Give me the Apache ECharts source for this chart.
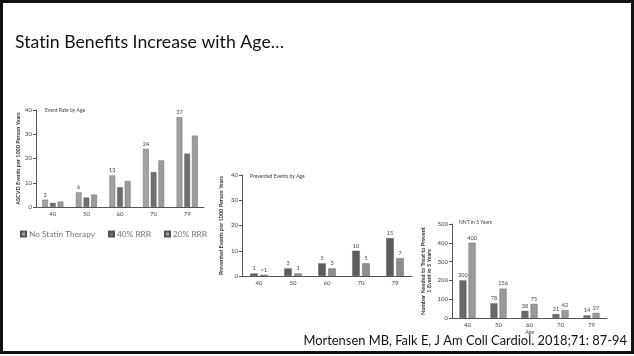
<!DOCTYPE html>
<html>
<head>
<meta charset="utf-8">
<script src="https://cdn.jsdelivr.net/npm/echarts@6/dist/echarts.min.js"></script>
<style>
  html, body { margin: 0; padding: 0; background: #fff; }
  #chart { width: 634px; height: 356px; }
</style>
</head>
<body>
<div id="chart"></div>
<script>
// Age groups shared by all three panels
const ages = ['40', '50', '60', '70', '79'];

// Panel 1: ASCVD events per 1000 person years
const noStatin = [3, 6, 13, 24, 37];
const rrr40 = [1.7, 3.9, 8.1, 14.4, 22];
const rrr20 = [2.2, 5.1, 10.7, 19.2, 29.4];

// Panel 2: prevented events per 1000 person years
const prevented40 = [1, 3, 5, 10, 15];
const prevented20 = [0.5, 1, 3, 5, 7];
const prevented20Labels = ['<1', '1', '3', '5', '7'];

// Panel 3: number needed to treat in 5 years
const nnt40 = [200, 78, 38, 21, 14];
const nnt20 = [400, 156, 75, 42, 27];

// Tick values
const rateTicks = [0, 10, 20, 30, 40];
const nntTicks = [0, 100, 200, 300, 400, 500];

const FONT = 'Lato, "Noto Sans", sans-serif';
const axisCol = '#555';

function xAxisFor(gridIndex, extra) {
  return Object.assign({
    type: 'category', gridIndex, data: ages,
    axisLine: { lineStyle: { color: axisCol, width: 1 } },
    axisTick: { show: false },
    axisLabel: { fontSize: 6, color: '#444', margin: 4, fontFamily: FONT }
  }, extra || {});
}
function yAxisFor(gridIndex, ticks, name, gap) {
  return {
    type: 'value', gridIndex,
    min: ticks[0], max: ticks[ticks.length - 1], interval: ticks[1] - ticks[0],
    splitLine: { show: false },
    axisLine: { show: true, lineStyle: { color: axisCol, width: 1 } },
    axisTick: { show: true, length: 3, lineStyle: { color: axisCol } },
    axisLabel: { fontSize: 6, color: '#444', margin: 4, fontFamily: FONT },
    name, nameLocation: 'middle', nameRotate: 90, nameGap: gap,
    nameTextStyle: { fontSize: 5.5, color: '#333', fontWeight: 'bold', lineHeight: 6, fontFamily: FONT }
  };
}
function bar(name, data, xi, color, width, gap, labels) {
  const s = {
    name, type: 'bar', xAxisIndex: xi, yAxisIndex: xi, data,
    barWidth: width, barGap: gap,
    itemStyle: { color, borderColor: '#555', borderWidth: 0.4 }
  };
  if (labels) {
    s.label = {
      show: true, position: 'top', distance: 2, fontSize: 5.5, color: '#444', fontFamily: FONT,
      formatter: labels === true ? (p => p.value) : (p => labels[p.dataIndex])
    };
  }
  return s;
}
function caption(text, left, top, size, color) {
  return { text, left, top, padding: 0,
    textStyle: { fontSize: size, fontWeight: 'normal', color, fontFamily: FONT } };
}

const chart = echarts.init(document.getElementById('chart'), null, { renderer: 'canvas' });
chart.setOption({
  backgroundColor: '#fff',
  animation: false,
  title: [
    // zero-width non-joiner keeps "ti" from turning into a ligature
    caption('Stat\u200Cin Benefits Increase with Age\u2026', 15, 33, 17.7, '#111'),
    caption('Event Rate by Age', 45, 108, 5, '#444'),
    caption('Prevented Events by Age', 250, 174, 5, '#444'),
    caption('NNT in 5 Years', 459, 220, 5, '#444'),
    Object.assign(caption('Mortensen MB, Falk E, J Am Coll Cardiol. 2018;71: 87-94', null, 334, 12.9, '#111'),
      { left: undefined, right: 7 })
  ],
  legend: {
    data: ['No Statin Therapy', '40% RRR', '20% RRR'],
    left: 20, top: 230, padding: 0, icon: 'rect', itemWidth: 5, itemHeight: 5, itemGap: 13,
    textStyle: { fontSize: 8.3, color: '#777', fontFamily: FONT, padding: [0, 0, 0, -2] }
  },
  grid: [
    { left: 36, top: 110, width: 168, height: 97 },
    { left: 242, top: 175, width: 170, height: 101 },
    { left: 452, top: 224, width: 155, height: 94 }
  ],
  xAxis: [
    xAxisFor(0),
    xAxisFor(1),
    xAxisFor(2, { name: 'Age', nameLocation: 'middle', nameGap: 12,
      nameTextStyle: { fontSize: 5, color: '#444', fontFamily: FONT } })
  ],
  yAxis: [
    yAxisFor(0, rateTicks, 'ASCVD Events per 1000 Person Years', 14),
    yAxisFor(1, rateTicks, 'Prevented Events per 1000 Person Years', 18),
    yAxisFor(2, nntTicks, 'Number Needed to Treat to Prevent\n1 Event in 5 Years', 20)
  ],
  series: [
    bar('No Statin Therapy', noStatin, 0, '#a2a2a2', 5.7, '35%', true),
    bar('40% RRR', rrr40, 0, '#6e6e6e', 5.7, '35%'),
    bar('20% RRR', rrr20, 0, '#9c9c9c', 5.7, '35%'),
    bar('Prevented, 40% RRR', prevented40, 1, '#5c5c5c', 7.5, '33%', true),
    bar('Prevented, 20% RRR', prevented20, 1, '#8e8e8e', 7.5, '33%', prevented20Labels),
    bar('NNT, 40% RRR', nnt40, 2, '#6a6a6a', 7, '30%', true),
    bar('NNT, 20% RRR', nnt20, 2, '#9a9a9a', 7, '30%', true)
  ],
  graphic: [
    { type: 'rect', shape: { x: 1.5, y: 1.5, width: 631, height: 351 },
      style: { fill: null, stroke: '#111', lineWidth: 3 }, z: 100 },
    { type: 'line', shape: { x1: 0, y1: 352.5, x2: 634, y2: 352.5 },
      style: { stroke: '#111', lineWidth: 1 }, z: 100 }
  ]
});
</script>
</body>
</html>
